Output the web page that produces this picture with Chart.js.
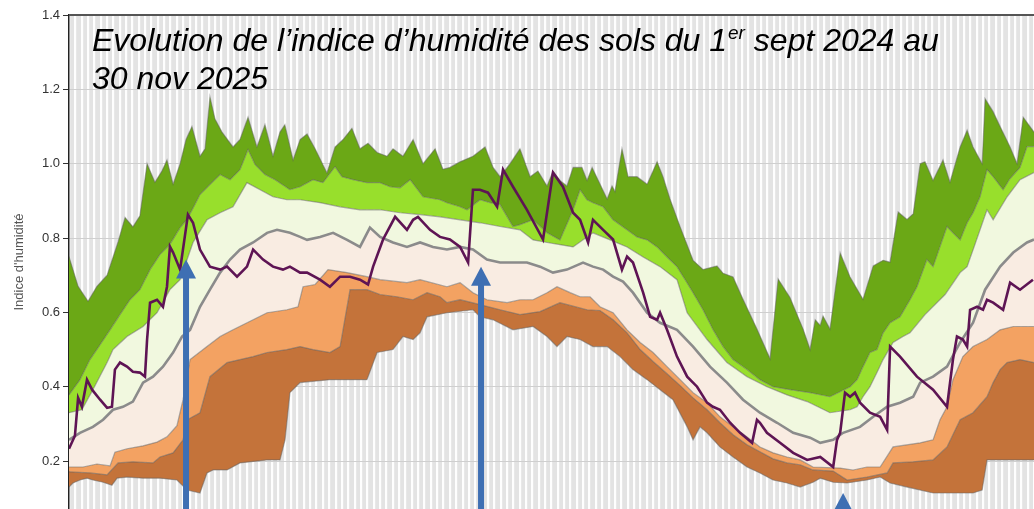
<!DOCTYPE html>
<html>
<head>
<meta charset="utf-8">
<script src="https://cdn.jsdelivr.net/npm/chart.js@4.4.1/dist/chart.umd.min.js"></script>
<style>
    html, body { margin: 0; padding: 0; background: #fff; }
    #wrap { width: 1034px; height: 509px; position: relative; }
</style>
</head>
<body>
<div id="wrap"><canvas id="humid"></canvas></div>
<script>
// x = days since 1 sept 2024, y = indice d'humidite
var maxDays = [0,4.3,9,13.2,18,23.2,26.5,30.2,33.5,36.9,40.6,43.9,46.3,49.2,52.5,55.3,58.1,61.9,64.3,66.6,69,72.3,77.5,80.8,84.6,88.8,92.6,96.4,99.7,102,105.9,109.2,112.5,116.3,121.9,125.7,129.5,133.7,137.5,141.3,145.6,150.3,153.1,157.8,162.6,167.3,173,176.7,180,184.8,190.9,196.6,200.4,203.7,208.4,213.1,217.9,221.6,225.9,228.7,232,235.3,238.2,242.4,244.8,247.2,254.3,256.6,258,261.3,264.2,268.4,273.2,277.9,280.7,284,288.8,294.9,299.6,306.2,309.1,313.8,318.5,325.1,331.3,335.1,340.7,346.9,350.2,352.6,355,356.3,359.6,364.4,369.1,375.2,380,384.7,388,391.8,396,398.9,402.2,404.5,408.3,413,416.3,421.1,424.4,427.2,431.5,432.9,436.7,440,444.7,448,450.9,456];
var maxVals = [0.75,0.67,0.63,0.67,0.70,0.79,0.855,0.83,0.86,1.0,0.95,0.98,1.01,0.945,1.0,1.065,1.10,1.02,1.04,1.18,1.12,1.085,1.045,1.065,1.125,1.045,1.105,1.02,1.085,1.105,1.01,1.065,1.08,1.04,0.975,1.045,1.065,1.095,1.04,1.055,1.03,1.02,1.04,1.02,1.065,1.0,1.04,0.985,0.99,1.005,1.02,1.045,0.99,0.965,1.0,1.04,0.965,0.98,0.94,0.98,0.955,0.94,0.99,0.99,0.955,0.99,0.905,0.94,0.925,1.04,0.965,0.965,0.945,1.005,0.965,0.905,0.83,0.74,0.715,0.725,0.705,0.695,0.635,0.555,0.475,0.69,0.64,0.555,0.50,0.58,0.565,0.59,0.555,0.76,0.695,0.635,0.725,0.74,0.735,0.87,0.85,0.865,1.0,1.005,0.955,1.01,0.95,1.045,1.09,1.045,1.0,1.175,1.14,1.10,1.045,1.0,1.125,1.085];

var q90Days = [0,5.2,9.9,14.7,19.4,24.1,28.8,33.5,38.3,43,47.7,52.5,55.8,59.5,61.9,66.6,71.4,76.1,80.8,84.6,87.9,92.6,97.4,104.4,109.2,115.3,120,125.7,129,134.2,140.8,147,151.7,156.4,161.2,167.3,175.3,178.6,184.8,188.1,194.2,199,203.7,209.8,213.1,219.3,225.9,232,238.2,241.5,244.8,247.6,252.4,257.1,263.7,268.4,273.2,277.9,282.6,287.3,292.1,294.9,299.6,304.3,309.1,313.8,320.4,326.5,332.7,340.7,350.2,359.6,369.1,372.4,375.2,378.5,381.8,384.7,388,392.7,397.4,400.7,405.4,408.3,411.6,414.9,417.7,421.1,424.4,427.2,430.5,433.8,436.7,441.4,444.7,449.4,452.7,456];
var q90Vals = [0.378,0.419,0.473,0.513,0.553,0.594,0.634,0.661,0.715,0.756,0.783,0.828,0.85,0.89,0.917,0.944,0.971,0.957,0.984,1.038,0.998,0.971,0.957,0.93,0.938,0.957,0.949,0.992,0.965,0.957,0.949,0.949,0.938,0.935,0.957,0.911,0.903,0.895,0.884,0.876,0.903,0.895,0.89,0.831,0.836,0.849,0.814,0.795,0.876,0.93,0.903,0.895,0.884,0.849,0.822,0.803,0.795,0.776,0.749,0.723,0.679,0.653,0.607,0.554,0.508,0.473,0.446,0.419,0.4,0.392,0.384,0.373,0.4,0.419,0.454,0.492,0.5,0.545,0.572,0.588,0.634,0.669,0.742,0.723,0.777,0.831,0.814,0.795,0.841,0.868,0.911,0.984,0.965,0.93,0.96,0.99,1.046,1.046];

var q80Days = [0,6.1,11.3,18,20.8,27.4,35,41.6,47.7,52.5,58.6,65.2,71.4,77.5,84.1,90.3,96.4,103,109.2,118.6,128.1,137.5,147,156.4,165.9,175.3,184.8,194.2,203.7,213.1,219.3,225.9,232,238.2,247.6,255.7,263.7,271.3,279.3,287.3,292.1,301.5,310.9,320.4,329.8,339.3,348.8,359.6,369.1,372.4,375.2,378.5,381.8,384.7,389.4,394.1,397.4,404.5,414,421.1,424.4,427.2,433.8,436.7,443.3,449.4,456];
var q80Vals = [0.33,0.338,0.392,0.465,0.5,0.535,0.562,0.599,0.661,0.688,0.788,0.849,0.868,0.884,0.949,0.93,0.911,0.903,0.903,0.895,0.884,0.876,0.876,0.868,0.863,0.857,0.849,0.841,0.831,0.822,0.795,0.788,0.782,0.776,0.814,0.795,0.776,0.749,0.723,0.688,0.599,0.527,0.465,0.427,0.4,0.378,0.36,0.33,0.338,0.346,0.373,0.4,0.438,0.473,0.519,0.535,0.545,0.594,0.648,0.707,0.723,0.768,0.876,0.849,0.911,0.957,0.976];

var medDays = [0,5.2,11.3,16.1,20.8,25.5,30.2,35,39.7,44.4,49.2,53.4,57.2,61.9,66.6,71.4,76.1,80.8,87,93.6,98.3,104.4,109.2,112.5,118.6,124.8,131.4,137.5,142.2,147,153.1,159.7,165.9,172,178.6,184.8,190.9,197.5,203.7,209.8,216.4,222.6,228.7,235.3,242.9,247.6,252.4,257.1,261.8,266.5,273.2,279.3,287.3,294.9,302.9,310.9,318.5,326.5,334.6,342.2,350.2,355,361.1,365.8,373.8,380,386.6,392.7,398.9,402.2,408.3,414.9,421.1,427.2,432.9,440,446.2,452.7,456];
var medVals = [0.257,0.276,0.292,0.311,0.338,0.346,0.36,0.411,0.427,0.454,0.492,0.535,0.553,0.615,0.661,0.707,0.742,0.769,0.788,0.814,0.822,0.814,0.803,0.795,0.803,0.814,0.795,0.776,0.828,0.803,0.788,0.776,0.788,0.776,0.769,0.776,0.769,0.742,0.734,0.734,0.734,0.723,0.707,0.715,0.734,0.723,0.715,0.696,0.683,0.653,0.599,0.572,0.553,0.508,0.454,0.411,0.365,0.33,0.303,0.276,0.263,0.249,0.257,0.276,0.292,0.319,0.346,0.357,0.373,0.411,0.427,0.454,0.519,0.572,0.661,0.723,0.761,0.788,0.796];

var q20Days = [0,6.6,13.2,19.4,21.7,27.4,35,41.6,46.3,51,53.9,57.2,65.2,71.4,77.5,87,93.6,103,108.2,110.6,116.3,122.4,131.4,140.8,147,159.7,165.9,178.6,184.8,190.9,197.5,207,213.1,219.3,225.9,230.6,236.8,241.5,246.2,250.9,257.1,263.7,269.9,276,282.6,288.8,294.9,301.5,307.6,313.8,320.4,326.5,332.7,339.3,345.5,351.6,364.4,370.5,377.1,383.3,389.4,402.2,408.3,411.6,414.9,417.7,422.4,427.2,433.8,440,446.2,456];
var q20Vals = [0.184,0.184,0.192,0.187,0.224,0.233,0.241,0.251,0.265,0.295,0.365,0.473,0.508,0.535,0.553,0.58,0.599,0.607,0.615,0.669,0.675,0.715,0.707,0.696,0.688,0.68,0.688,0.669,0.68,0.653,0.634,0.626,0.634,0.634,0.653,0.669,0.653,0.642,0.642,0.615,0.599,0.553,0.519,0.492,0.454,0.419,0.384,0.357,0.319,0.292,0.265,0.238,0.222,0.211,0.203,0.184,0.181,0.176,0.184,0.184,0.238,0.249,0.257,0.311,0.346,0.419,0.481,0.508,0.527,0.553,0.562,0.562];

var q10Days = [0,9.9,18,23.2,30.2,39.7,43,49.2,53.9,55.8,61.9,66.6,74.7,80.8,87,93.6,103,109.2,115.3,123.3,128.1,132.8,140.8,147,155,162.6,169.2,175.3,178.6,184.8,194.2,203.7,213.1,222.6,232,244.8,250.9,257.1,263.7,269.9,276,282.6,288.8,294.9,301.5,307.6,313.8,320.4,326.5,332.7,339.3,345.5,351.6,361.1,367.7,377.1,386.6,389.4,398.9,408.3,414.9,421.1,427.2,433.8,436.7,440,443.3,449.4,456];
var q10Vals = [0.171,0.168,0.163,0.195,0.198,0.195,0.211,0.222,0.257,0.311,0.33,0.427,0.465,0.473,0.481,0.492,0.5,0.508,0.5,0.492,0.508,0.661,0.661,0.648,0.642,0.634,0.653,0.642,0.626,0.634,0.621,0.607,0.594,0.602,0.626,0.607,0.605,0.58,0.545,0.5,0.468,0.435,0.403,0.37,0.338,0.303,0.271,0.244,0.225,0.206,0.195,0.19,0.176,0.173,0.149,0.157,0.168,0.195,0.198,0.203,0.238,0.311,0.33,0.373,0.411,0.446,0.465,0.473,0.465];

var minDays = [0,1.9,5.2,8.5,11.3,16.1,20.3,22.7,27.4,35,43,51,55.8,61.9,65.2,68.1,74.7,80.8,93.6,99.7,102.1,104.4,109.2,123.3,140.8,145.6,153.1,157.8,162.6,165.9,169.2,178.6,190.9,194.2,200.4,209.8,219.3,225.9,230.6,235.3,241.5,247.6,254.3,260.4,266.5,273.2,279.3,285.4,292.1,294.9,298.2,301.5,307.6,313.8,320.4,326.5,332.7,339.3,345.5,351.6,355,361.1,367.7,377.1,383.3,388,396,408.3,427.2,431.5,433.8,446.2,456];
var minVals = [0.13,0.141,0.149,0.154,0.149,0.143,0.135,0.154,0.157,0.154,0.154,0.149,0.122,0.114,0.168,0.176,0.176,0.195,0.203,0.203,0.257,0.384,0.411,0.419,0.419,0.492,0.5,0.535,0.527,0.545,0.588,0.599,0.607,0.588,0.58,0.553,0.562,0.535,0.508,0.535,0.527,0.508,0.508,0.481,0.446,0.419,0.392,0.365,0.292,0.257,0.292,0.276,0.238,0.211,0.184,0.168,0.149,0.141,0.13,0.143,0.154,0.143,0.141,0.149,0.157,0.141,0.13,0.114,0.114,0.122,0.203,0.203,0.203];

var curDays = [0,2.8,4.3,6.1,8.5,10.9,14.7,18,20.3,21.7,24.1,27.4,30.2,33.5,35.9,36.9,38.3,41.6,44.4,46.3,47.7,49.2,52.5,56.2,58.6,61.9,66.6,71.4,74.7,79.4,84.1,87,91.7,96.4,101.1,104.4,109.2,112.5,118.6,123.3,128.1,132.8,137.5,141.3,143.7,148.4,154.1,159.7,162.6,164.9,170.6,175.3,180,184.8,188.6,190.9,194.2,198,202.3,205.1,209.8,216.4,224,228.7,233.4,238.2,241.5,245.3,247.6,252.4,257.1,261.3,263.7,266.5,271.3,274.6,277.9,279.3,282.6,287.3,292.1,296.8,301.5,304.3,307.6,312.4,317.1,322.8,325.1,326.5,329.8,336,342.2,348.8,355,361.1,362.9,364.4,366.7,369.1,371.4,373.8,378.5,383.3,386.6,388,392.7,400.7,408.3,414.9,417.7,419.6,422.4,424.4,425.8,429.1,431.9,433.8,436.7,441.4,444.7,449.4,455.5];
var curVals = [0.233,0.268,0.37,0.346,0.419,0.392,0.365,0.343,0.346,0.446,0.465,0.454,0.44,0.438,0.427,0.527,0.626,0.634,0.615,0.669,0.777,0.761,0.715,0.863,0.841,0.769,0.723,0.715,0.723,0.696,0.723,0.769,0.742,0.723,0.715,0.723,0.707,0.707,0.688,0.669,0.696,0.696,0.688,0.675,0.723,0.796,0.857,0.822,0.849,0.857,0.822,0.803,0.796,0.776,0.734,0.93,0.93,0.922,0.884,0.984,0.938,0.876,0.796,0.976,0.938,0.868,0.849,0.788,0.849,0.822,0.796,0.715,0.75,0.734,0.653,0.588,0.58,0.599,0.553,0.481,0.427,0.4,0.357,0.346,0.338,0.303,0.276,0.249,0.311,0.303,0.276,0.249,0.222,0.203,0.211,0.184,0.257,0.276,0.384,0.373,0.384,0.357,0.33,0.319,0.284,0.508,0.481,0.427,0.392,0.346,0.473,0.535,0.527,0.508,0.607,0.615,0.607,0.634,0.626,0.607,0.68,0.661,0.688];

var yTicks = [0.2, 0.4, 0.6, 0.8, 1.0, 1.2, 1.4];

// blue arrows: day of the shaft and value of the tip
var arrowDays = [55.3, 194.7, 365.8];
var arrowTips = [0.742, 0.723, 0.114];

function pts(days, vals) {
    return days.map(function (d, i) {
        return { x: d, y: vals[i] };
    });
}

var edge = "rgba(95, 95, 95, 0.5)";

function band(label, days, vals, color) {
    return {
        label: label,
        data: pts(days, vals),
        fill: "-1",
        backgroundColor: color,
        borderColor: edge,
        borderWidth: 1.2,
        pointRadius: 0,
        tension: 0,
        order: 5,
    };
}

var plotBg = {
    id: "plotBg",
    beforeDraw: function (chart) {
        var a = chart.chartArea;
        var ctx = chart.ctx;
        ctx.save();
        ctx.fillStyle = "#e3e3e3";
        ctx.fillRect(a.left, a.top, a.right - a.left, a.bottom - a.top);
        ctx.restore();
    },
};

var overlay = {
    id: "overlay",
    afterDatasetsDraw: function (chart) {
        var ctx = chart.ctx;
        var xs = chart.scales.x;
        var ys = chart.scales.y;
        var a = chart.chartArea;
        ctx.save();
        ctx.fillStyle = "#3e6fb3";
        for (var i = 0; i < arrowDays.length; i++) {
            var x = xs.getPixelForValue(arrowDays[i]);
            var tip = ys.getPixelForValue(arrowTips[i]);
            var base = tip + 19;
            ctx.fillRect(x - 3, base - 1, 6, a.bottom - base + 2);
            ctx.beginPath();
            ctx.moveTo(x, tip);
            ctx.lineTo(x + 10, base);
            ctx.lineTo(x - 10, base);
            ctx.closePath();
            ctx.fill();
        }
        // top border
        ctx.strokeStyle = "#555";
        ctx.lineWidth = 2;
        ctx.beginPath();
        ctx.moveTo(a.left, a.top);
        ctx.lineTo(a.right, a.top);
        ctx.stroke();
        ctx.restore();
    },
    afterDraw: function (chart) {
        var ctx = chart.ctx;
        ctx.save();
        ctx.fillStyle = "#000";
        ctx.textBaseline = "alphabetic";
        var big = "italic 32px 'Liberation Sans', Arial, sans-serif";
        var small = "italic 19px 'Liberation Sans', Arial, sans-serif";
        var x = 92;
        ctx.font = big;
        var part1 = "Evolution de l\u2019indice d\u2019humidit\u00e9 des sols du 1";
        ctx.fillText(part1, x, 51);
        x += ctx.measureText(part1).width;
        ctx.font = small;
        ctx.fillText("er", x + 1, 39);
        x += ctx.measureText("er").width + 1;
        ctx.font = big;
        ctx.fillText(" sept 2024 au", x, 51);
        ctx.fillText("30 nov 2025", 92, 89);
        ctx.restore();
    },
};

var ctx = document.getElementById("humid").getContext("2d");
var humidChart = new Chart(ctx, {
    type: "line",
    data: {
        datasets: [
            {
                label: "min",
                data: pts(minDays, minVals),
                fill: false,
                borderColor: edge,
                borderWidth: 1.2,
                pointRadius: 0,
                tension: 0,
                order: 5,
            },
            band("decile 1", q10Days, q10Vals, "#c4733a"),
            band("quintile 1", q20Days, q20Vals, "#f3a262"),
            {
                label: "mediane",
                data: pts(medDays, medVals),
                fill: "-1",
                backgroundColor: "#f9ece2",
                borderColor: "#8b8b8b",
                borderWidth: 2.6,
                pointRadius: 0,
                tension: 0,
                order: 2,
            },
            band("quintile 4", q80Days, q80Vals, "#f1f8df"),
            band("decile 9", q90Days, q90Vals, "#98df2c"),
            band("max", maxDays, maxVals, "#6ba816"),
            {
                label: "2024-2025",
                data: pts(curDays, curVals),
                fill: false,
                borderColor: "#5e1454",
                borderWidth: 2.6,
                pointRadius: 0,
                tension: 0,
                order: 1,
            },
        ],
    },
    options: {
        responsive: true,
        maintainAspectRatio: false,
        animation: false,
        devicePixelRatio: 1,
        layout: { padding: { top: 15, right: 0, bottom: 0, left: 0 } },
        plugins: {
            legend: { display: false },
            tooltip: { enabled: false },
            filler: { drawTime: "beforeDatasetsDraw" },
        },
        scales: {
            x: {
                type: "linear",
                min: 0,
                max: 456,
                afterFit: function (scale) {
                    scale.height = 0;
                    scale.paddingLeft = 0;
                    scale.paddingRight = 0;
                },
                ticks: { display: false, stepSize: 3 },
                grid: { color: "rgba(255,255,255,0.95)", lineWidth: 2.2, drawTicks: false },
                border: { display: false },
            },
            y: {
                min: 0.071,
                max: 1.4,
                afterBuildTicks: function (scale) {
                    scale.ticks = yTicks.map(function (v) {
                        return { value: v };
                    });
                },
                afterFit: function (scale) {
                    scale.width = 69;
                    scale.paddingTop = 0;
                    scale.paddingBottom = 0;
                },
                ticks: {
                    color: "#333",
                    padding: 3,
                    font: { family: "'Liberation Sans', Arial, sans-serif", size: 13 },
                    callback: function (v) {
                        return v.toFixed(1);
                    },
                },
                grid: {
                    color: "#cfcfcf",
                    lineWidth: 1,
                    tickLength: 6,
                    tickColor: "#333",
                },
                border: { color: "#222", width: 1.5 },
                title: {
                    display: true,
                    text: "Indice d'humidit\u00e9",
                    color: "#555",
                    padding: { top: 12, bottom: 0 },
                    font: { family: "'Liberation Sans', Arial, sans-serif", size: 13 },
                },
            },
        },
    },
    plugins: [plotBg, overlay],
});
</script>
</body>
</html>
